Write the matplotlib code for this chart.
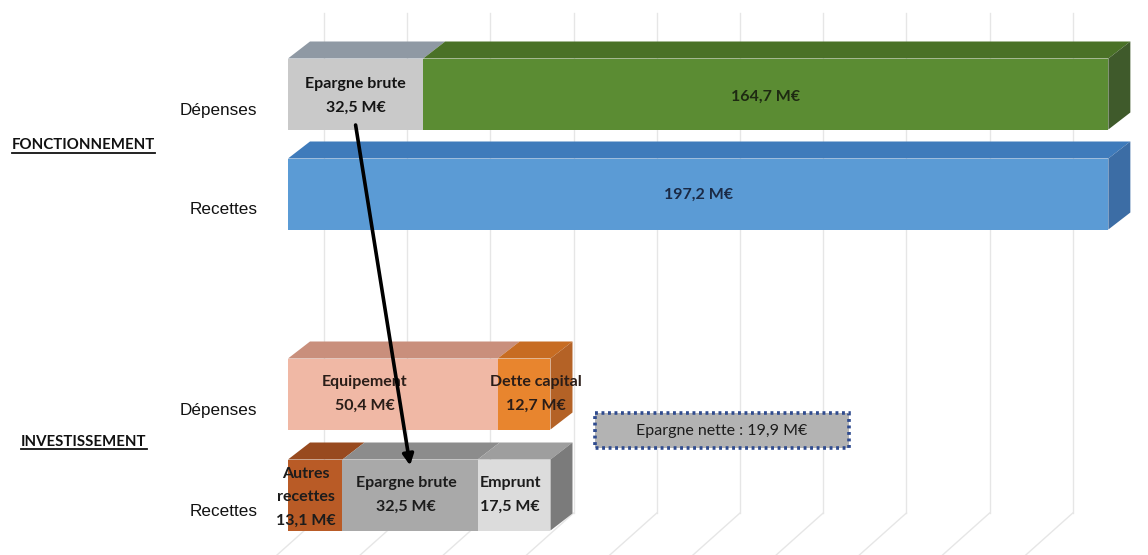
import numpy as np
import matplotlib
matplotlib.use("Agg")
import matplotlib.pyplot as plt
from matplotlib.patches import Polygon, Rectangle
from matplotlib.lines import Line2D

# ---------------- data ----------------
sections = ["FONCTIONNEMENT", "INVESTISSEMENT"]
row_labels = ["Dépenses", "Recettes", "Dépenses", "Recettes"]

fonct_depenses = [32.5, 164.7]
fonct_depenses_names = ["Epargne brute", ""]
fonct_recettes = [197.2]
fonct_recettes_names = [""]
inv_depenses = [50.4, 12.7]
inv_depenses_names = ["Equipement", "Dette capital"]
inv_recettes = [13.1, 32.5, 17.5]
inv_recettes_names = ["Autres\nrecettes", "Epargne brute", "Emprunt"]
epargne_nette = 19.9

# ---------------- styles / layout ----------------
W, H = 1148, 555
PX = 4.16            # pixels per M€
X0 = 288             # pixel of zero
DX = 22 / PX         # depth of 3D bars (x, in data units)
DY = 17              # depth of 3D bars (y, pixels)
BAR_H = 71
row_y = [94, 194, 394, 495]

front_cols = [["#c9c9c9", "#5b8c33"], ["#5b9bd5"],
              ["#f0b8a5", "#e8852e"], ["#b95b26", "#a9a9a9", "#dcdcdc"]]
top_cols = [["#8f99a4", "#4a7127"], ["#3f7bbb"],
            ["#c98f7c", "#c76c22"], ["#984a1f", "#8c8c8c", "#9e9e9e"]]
side_cols = ["#3f5a2b", "#3c6da5", "#b46226", "#7b7b7b"]
label_dx = [[0, 0], [0], [-28, 12], [-9, -4, -4]]   # px shifts of labels
label_dy = [[2, 3], [1], [0, 0], [2, 0, 0]]
label_col = [["#141414", "#1e2a12"], ["#1b2a45"],
             ["#2a1d18", "#2a1d18"], ["#1c1c1c", "#1c1c1c", "#1c1c1c"]]

BOLDF = ["Lato", "DejaVu Sans"]
REG = ["Liberation Sans", "DejaVu Sans"]

fig = plt.figure(figsize=(W / 100, H / 100), dpi=100)
ax = fig.add_axes([0, 0, 1, 1])
ax.set_xlim(-X0 / PX, (W - X0) / PX)
ax.set_ylim(H, 0)
ax.axis("off")

# back-wall gridlines and floor lines
wall_off = 36 / PX
for v in np.arange(0, 200, 20):
    gx = v + wall_off
    ax.plot([gx, gx], [13, 513], color="#e6e6e6", lw=1.0, zorder=0)
    ax.plot([gx, gx - 47 / PX], [513, 555], color="#e6e6e6", lw=1.0, zorder=0)

rows = [(fonct_depenses, fonct_depenses_names),
        (fonct_recettes, fonct_recettes_names),
        (inv_depenses, inv_depenses_names),
        (inv_recettes, inv_recettes_names)]

for i, (vals, names) in enumerate(rows):
    y = row_y[i]
    vals = np.array(vals)
    lefts = np.concatenate([[0], np.cumsum(vals)[:-1]])
    ax.barh([y] * len(vals), vals, left=lefts, height=BAR_H,
            color=front_cols[i], edgecolor="none", zorder=3)
    top = y - BAR_H / 2
    bot = y + BAR_H / 2
    for j, (l, v) in enumerate(zip(lefts, vals)):
        r = l + v
        ax.add_patch(Polygon([(l, top), (l + DX, top - DY), (r + DX, top - DY), (r, top)],
                             closed=True, fc=top_cols[i][j], ec="none", zorder=3))
        val_txt = f"{v:.1f}".replace(".", ",") + " M€"
        txt = (names[j] + "\n" + val_txt) if names[j] else val_txt
        ax.text(l + v / 2 + label_dx[i][j] / PX, y + label_dy[i][j], txt,
                ha="center", va="center",
                fontsize=11.5, fontweight="bold", family=BOLDF, color=label_col[i][j],
                linespacing=1.85, zorder=5)
    r = lefts[-1] + vals[-1]
    ax.add_patch(Polygon([(r, top), (r + DX, top - DY), (r + DX, bot - DY), (r, bot)],
                         closed=True, fc=side_cols[i], ec="none", zorder=3))
    ax.text(-7.4, y + 16, row_labels[i], ha="right", va="center",
            fontsize=12.3, family=REG, color="#111111")

# section titles
sec_txt = []
for name, yy, xoff in zip(sections,
                          [(row_y[0] + row_y[1]) / 2 + 1, (row_y[2] + row_y[3]) / 2 - 3],
                          [12, 21]):
    t = ax.text(-X0 / PX + xoff / PX, yy, name, ha="left", va="center",
                fontsize=10.8, fontweight="bold", family=BOLDF, color="#111111")
    sec_txt.append(t)

# arrow epargne brute (fonctionnement) -> epargne brute (investissement)
ax.annotate("", xy=(inv_recettes[0] + inv_recettes[1] / 2, row_y[3] - BAR_H / 2 + 6),
            xytext=(fonct_depenses[0] / 2, row_y[0] + 31),
            arrowprops=dict(arrowstyle="-|>", lw=2.6, color="black",
                            mutation_scale=16, shrinkA=0, shrinkB=0),
            zorder=6)

# epargne nette box
bx0, bx1 = (595 - X0) / PX, (849 - X0) / PX
ax.add_patch(Rectangle((bx0, 413), bx1 - bx0, 35, fc="#b3b3b3", ec="#2f4b8f",
                       lw=2.6, ls=(0, (0.8, 1.0)), zorder=4))
ax.text((bx0 + bx1) / 2, 430.5,
        "Epargne nette : " + f"{epargne_nette:.1f}".replace(".", ",") + " M€",
        ha="center", va="center", fontsize=11.5, family=BOLDF, color="#1c1c1c", zorder=5)

# underline section titles
fig.canvas.draw()
renderer = fig.canvas.get_renderer()
for t in sec_txt:
    bb = t.get_window_extent(renderer)
    yline = bb.y0 - 0.5
    fig.add_artist(Line2D([bb.x0 / W, bb.x1 / W], [yline / H, yline / H],
                          color="#111111", lw=1.3))

fig.savefig("out.png", dpi=100)
